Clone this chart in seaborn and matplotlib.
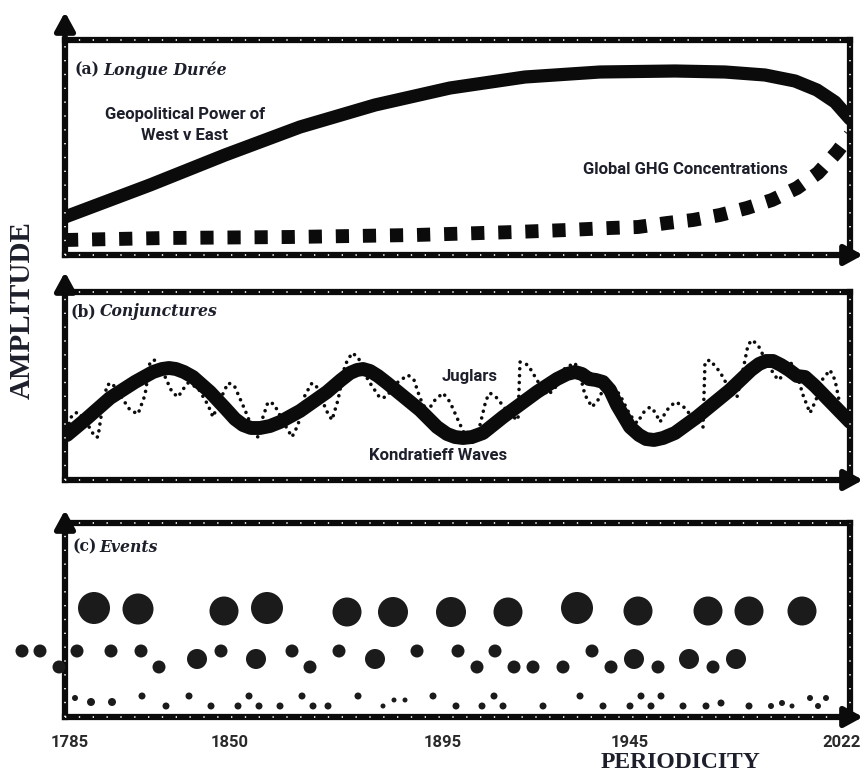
import numpy as np
import pandas as pd
import matplotlib
matplotlib.use("Agg")
import matplotlib.pyplot as plt
from matplotlib import font_manager as fm
import seaborn as sns

# ---------------- data (arbitrary units: position along time, amplitude) ----------------
# (a) Longue Duree
geo_pos = [0, 85, 160, 235, 310, 385, 460, 535, 610, 660, 700, 730, 752, 770, 785]
geo_amp = [38, 70, 100, 128, 150, 167, 178, 183, 184, 183, 180, 174, 165, 153, 136]

ghg_pos = [0, 100, 225, 350, 450, 502, 545, 573, 602, 628, 655, 682, 707, 732, 753, 772, 785]
ghg_amp = [15, 17, 18, 20, 23, 25, 27, 28, 32, 35, 40, 47, 55, 67, 82, 103, 120]

# (b) Conjunctures
kond_pos = [2, 20, 45, 70, 88, 97, 104, 111, 119, 128, 145, 160, 170, 178, 186, 195, 205,
            215, 235, 262, 276, 285, 292, 298, 305, 313, 322, 355, 372, 382, 390, 398, 407,
            418, 438, 472, 492, 502, 510, 517, 524, 531, 538, 545, 552, 565, 574, 581, 589,
            598, 610, 632, 665, 686, 694, 701, 708, 716, 724, 732, 740, 750, 785]
kond_amp = [45, 60, 82, 98, 108, 111, 112, 111, 108, 103, 88, 72, 61, 55, 52, 52, 54,
            58, 69, 88, 100, 107, 110, 111, 109, 104, 97, 70, 53, 46, 43, 42, 43,
            47, 63, 88, 101, 106, 108, 106, 101, 100, 98, 90, 75, 53, 45, 41, 40,
            42, 47, 63, 90, 110, 116, 119, 119, 115, 110, 104, 103, 94, 58]

jug_pos = [2, 7, 13, 20, 30, 33, 37, 42, 47, 53, 65, 73, 80, 85, 90, 97, 107, 113, 119, 123,
           133, 143, 148, 155, 163, 169, 180, 190, 193, 197, 203, 209, 220, 227, 233, 240,
           247, 253, 261, 267, 273, 280, 287, 293, 303, 315, 321, 333, 343, 349, 355, 362,
           370, 378, 385, 393, 400, 408, 415, 421, 425, 432, 445, 453, 454, 455, 463, 475,
           483, 490, 500, 510, 515, 520, 527, 533, 540, 545, 555, 565, 572, 579, 585, 590,
           595, 602, 610, 617, 630, 638, 639, 640, 645, 655, 665, 672, 677, 683, 687, 693,
           703, 713, 719, 725, 730, 738, 745, 751, 757, 765, 770, 775, 782]
jug_amp = [50, 65, 68, 60, 43, 43, 70, 95, 97, 88, 70, 66, 85, 118, 120, 110, 88, 83, 92, 97,
           92, 75, 63, 80, 97, 95, 70, 45, 43, 60, 78, 76, 55, 43, 55, 85,
           97, 92, 70, 60, 80, 115, 127, 123, 100, 82, 83, 98, 105, 100, 82, 68,
           80, 87, 78, 60, 45, 37, 55, 80, 87, 82, 65, 60, 90, 118, 115, 95,
           85, 92, 112, 117, 105, 85, 73, 80, 94, 97, 85, 65, 57, 68, 73, 68,
           58, 70, 78, 75, 60, 53, 85, 118, 120, 108, 90, 83, 105, 135, 140, 135,
           115, 100, 105, 118, 112, 85, 67, 80, 100, 110, 100, 75, 63]

# (c) Events: position, amplitude level, magnitude (dot diameter class)
major_pos = [29, 73, 159, 202, 282, 328, 386, 443, 512, 573, 643, 684, 737]
major_amp = [109, 108, 106, 109, 105, 105, 105, 105, 109, 106, 106, 106, 106]
major_mag = [32, 31, 29, 32, 29, 30, 30, 29, 32, 29, 29, 29, 29]

mid_pos = [-43, -25, -6, 12, 46, 76, 94, 132, 156, 191, 227, 245, 274, 310, 352, 393, 412,
           430, 449, 468, 498, 527, 546, 569, 593, 624, 648, 671]
mid_amp = [66, 66, 50, 66, 66, 66, 50, 58, 66, 58, 66, 50, 66, 58, 66, 66, 50,
           66, 50, 50, 50, 66, 50, 58, 50, 58, 50, 58]
mid_mag = [13, 13, 13, 13, 13, 13, 13, 20, 13, 20, 13, 13, 13, 20, 13, 13, 13,
           13, 13, 13, 13, 13, 13, 20, 13, 20, 13, 20]

minor_pos = [10, 26, 47, 77, 101, 124, 146, 173, 184, 194, 215, 237, 248, 263, 293, 318, 329,
             340, 368, 391, 417, 429, 438, 478, 515, 538, 565, 576, 586, 596, 618, 641, 656,
             684, 706, 717, 727, 745, 753, 761]
minor_amp = [19, 15, 15, 21, 11, 21, 11, 11, 21, 11, 11, 21, 11, 11, 21, 11, 17,
             17, 21, 11, 11, 21, 11, 11, 21, 11, 11, 21, 11, 21, 11, 11, 14,
             11, 11, 14, 11, 19, 11, 19]
minor_mag = [6, 8, 8, 7, 7, 7, 7, 7, 7, 7, 7, 7, 7, 7, 7, 5, 5,
             5, 7, 7, 7, 7, 7, 7, 7, 7, 7, 7, 7, 7, 7, 7, 7,
             7, 6, 6, 5, 6, 6, 6]

year_labels = ["1785", "1850", "1895", "1945", "2022"]

# ---------------- styling ----------------
sns.set_theme(style="white")
names = {(f.name, f.stretch) for f in fm.fontManager.ttflist}
fam_names = {f.name for f in fm.fontManager.ttflist}

if ("DejaVu Serif", "condensed") in names:
    title_font = dict(family="DejaVu Serif", fontstretch="condensed", fontweight="bold")
    title_size = 12.5
else:
    title_font = dict(family="Liberation Serif", fontweight="bold")
    title_size = 14

if "Liberation Sans Narrow" in fam_names:
    label_font = dict(family="Liberation Sans Narrow", fontweight="bold")
    label_size = 13
else:
    label_font = dict(family="Roboto", fontweight="semibold")
    label_size = 12

plt.rcParams["font.family"] = ["Liberation Sans", "DejaVu Sans"]

INK = "#0b0b0b"
TXT = "#1d1f2b"

W, H = 864, 776
fig = plt.figure(figsize=(W / 100, H / 100), dpi=100)

# panel boxes in pixel geometry (left, top, right, bottom)
boxes = {"a": (65, 40, 850, 255), "b": (65, 292, 850, 480), "c": (65, 523, 850, 717)}
arrow_tip = {"a": 12, "b": 272, "c": 510}
axes = {}
for k, (l, t, r, b) in boxes.items():
    ax = fig.add_axes([l / W, 1 - b / H, (r - l) / W, (b - t) / H])
    ax.set_xlim(0, r - l)
    ax.set_ylim(0, b - t)
    ax.set_xticks([])
    ax.set_yticks([])
    ax.set_facecolor("white")
    for s in ax.spines.values():
        s.set_visible(True)
        s.set_color(INK)
        s.set_linewidth(4.5)
        s.set_capstyle("projecting")
    # white dotted texture on the border
    for xs, ys in [([0, 1], [0, 0]), ([0, 1], [1, 1]), ([0, 0], [0, 1]), ([1, 1], [0, 1])]:
        ax.plot(xs, ys, transform=ax.transAxes, color="white", lw=1.2,
                ls=(0, (0.8, 7.5)), clip_on=False, zorder=3)
    # axis arrows
    ext_y = (t - arrow_tip[k]) / (b - t)
    ax.annotate("", xy=(0, 1 + ext_y), xytext=(0, 1), xycoords="axes fraction",
                arrowprops=dict(arrowstyle="-|>,head_length=0.55,head_width=0.3",
                                lw=4.0, color=INK, shrinkA=0, shrinkB=0, mutation_scale=20),
                annotation_clip=False)
    ext_x = 13 / (r - l)
    ax.annotate("", xy=(1 + ext_x, 0), xytext=(1 - 0.01, 0), xycoords="axes fraction",
                arrowprops=dict(arrowstyle="-|>,head_length=0.55,head_width=0.3",
                                lw=4.0, color=INK, shrinkA=0, shrinkB=0, mutation_scale=20),
                annotation_clip=False)
    axes[k] = ax

# ---------------- (a) ----------------
ax = axes["a"]
sns.lineplot(x=geo_pos, y=geo_amp, ax=ax, color=INK, lw=9.5, estimator=None, sort=False)
ax.get_lines()[-1].set_solid_joinstyle("round")
sns.lineplot(x=ghg_pos, y=ghg_amp, ax=ax, color=INK, lw=10, estimator=None, sort=False)
ln = ax.get_lines()[-1]
ln.set_linestyle((0, (0.95, 1.0)))
ln.set_dash_capstyle("butt")
ax.text(10, 185, "(a)", ha="left", va="center", fontsize=title_size, color=TXT, **title_font)
ax.text(38, 185, "Longue Durée", ha="left", va="center", fontsize=title_size, color=TXT,
        style="italic", **title_font)
ax.text(120, 140, "Geopolitical Power of", ha="center", va="center", fontsize=label_size,
        color=TXT, **label_font)
ax.text(120, 120, "West v East", ha="center", va="center", fontsize=label_size,
        color=TXT, **label_font)
ax.text(620, 85, "Global GHG Concentrations", ha="center", va="center", fontsize=label_size,
        color=TXT, **label_font)

# ---------------- (b) ----------------
ax = axes["b"]
sns.lineplot(x=jug_pos, y=jug_amp, ax=ax, color=INK, lw=2.6, estimator=None, sort=False)
ln = ax.get_lines()[-1]
ln.set_linestyle((0, (0.01, 1.9)))
ln.set_dash_capstyle("round")
sns.lineplot(x=kond_pos, y=kond_amp, ax=ax, color=INK, lw=10, estimator=None, sort=False)
ax.get_lines()[-1].set_solid_joinstyle("round")
ax.text(5, 168, "(b)", ha="left", va="center", fontsize=title_size, color=TXT, **title_font)
ax.text(35, 168, "Conjunctures", ha="left", va="center", fontsize=title_size, color=TXT,
        style="italic", **title_font)
ax.text(405, 103, "Juglars", ha="center", va="center", fontsize=label_size, color=TXT,
        **label_font)
ax.text(373, 25, "Kondratieff Waves", ha="center", va="center", fontsize=label_size,
        color=TXT, **label_font)

# ---------------- (c) ----------------
ax = axes["c"]
ev = pd.DataFrame({
    "pos": major_pos + mid_pos + minor_pos,
    "amp": major_amp + mid_amp + minor_amp,
    "mag": major_mag + mid_mag + minor_mag,
})
size_map = {m: (m * 0.72) ** 2 for m in sorted(set(ev["mag"]))}
sns.scatterplot(data=ev, x="pos", y="amp", size="mag", sizes=size_map, color="#1b1b1b",
                linewidth=0, legend=False, ax=ax, clip_on=False, zorder=5)
ax.set_xlabel("")
ax.set_ylabel("")
ax.text(7, 170, "(c)", ha="left", va="center", fontsize=title_size, color=TXT, **title_font)
ax.text(34, 170, "Events", ha="left", va="center", fontsize=title_size, color=TXT,
        style="italic", **title_font)
ax.set_xticks([5, 165, 378, 565, 777], year_labels)
ax.tick_params(axis="x", length=0, pad=13)
for lab in ax.get_xticklabels():
    lab.set_fontsize(12)
    lab.set_color("#2a2a2a")
    lab.set_fontfamily(label_font["family"])
    lab.set_fontweight("bold")

for k in "ab":
    axes[k].set_xlabel("")
    axes[k].set_ylabel("")

# ---------------- axis titles ----------------
fig.text(22 / W, 1 - 310 / H, "AMPLITUDE", rotation=90, ha="center", va="center",
         fontsize=21, fontweight="bold", family="Liberation Serif", color=TXT)
fig.text(680 / W, 1 - 763 / H, "PERIODICITY", ha="center", va="center",
         fontsize=17, fontweight="bold", family="Liberation Serif", color=TXT)

fig.savefig("out.png", dpi=100)
